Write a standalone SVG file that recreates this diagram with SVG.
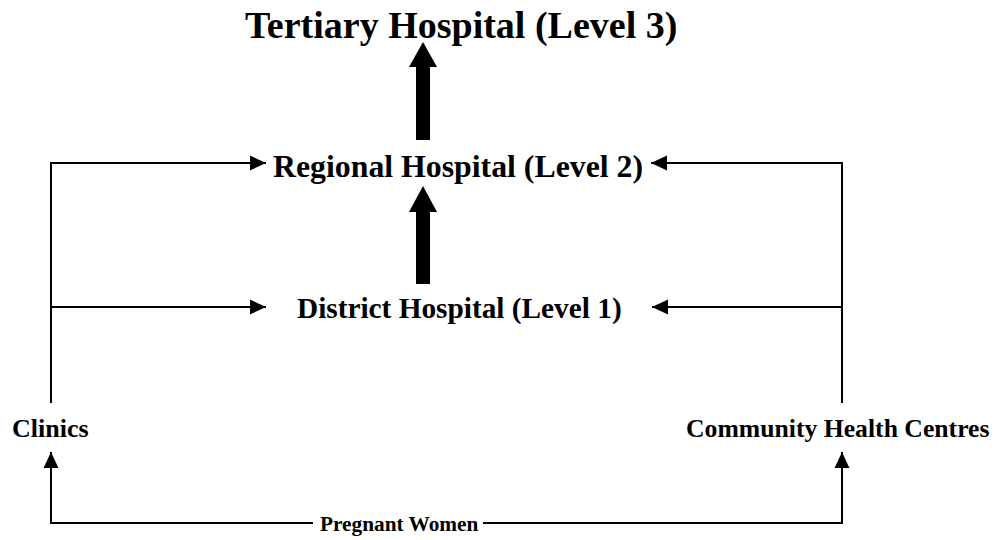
<svg xmlns="http://www.w3.org/2000/svg" width="1005" height="540" viewBox="0 0 1005 540">
  <style>
    text { font-family: "Liberation Serif", "Times New Roman", serif; font-weight: bold; fill: #000; }
    .link { fill: none; stroke: #000; stroke-width: 2; }
    .big { fill: #000; stroke: none; }
  </style>
  <defs>
    <marker id="head" markerUnits="userSpaceOnUse" markerWidth="16" markerHeight="16" viewBox="0 0 14 14" refX="14" refY="7" orient="auto">
      <path d="M0,0.5 L14,7 L0,13.5 Z" fill="#000"/>
    </marker>
  </defs>
  <rect width="1005" height="540" fill="#fff"/>

  <g id="tertiary">
    <text x="245" y="38" font-size="38">Tertiary Hospital (Level 3)</text>
  </g>
  <g id="regional">
    <text x="273" y="177" font-size="31.8">Regional Hospital (Level 2)</text>
  </g>
  <g id="district">
    <text x="297" y="318" font-size="29.3">District Hospital (Level 1)</text>
  </g>
  <g id="clinics">
    <text x="12" y="437" font-size="26">Clinics</text>
  </g>
  <g id="chc">
    <text x="686" y="437" font-size="25.7">Community Health Centres</text>
  </g>
  <g id="pregnant">
    <text x="320" y="531" font-size="21.3">Pregnant Women</text>
  </g>

  <g id="connectors">
    <!-- referral upwards between hospital levels -->
    <path class="big" d="M416,140 L416,67 L409,67 L423,42 L437,67 L430,67 L430,140 Z"/>
    <path class="big" d="M416,284 L416,212 L409,212 L423,186 L437,212 L430,212 L430,284 Z"/>
    <!-- clinics to hospitals -->
    <path class="link" d="M51,403 L51,163 L266,163" marker-end="url(#head)"/>
    <path class="link" d="M51,307 L266,307" marker-end="url(#head)"/>
    <!-- community health centres to hospitals -->
    <path class="link" d="M842,403 L842,163 L651,163" marker-end="url(#head)"/>
    <path class="link" d="M842,307 L652,307" marker-end="url(#head)"/>
    <!-- pregnant women to primary care -->
    <path class="link" d="M313,523 L51,523 L51,452" marker-end="url(#head)"/>
    <path class="link" d="M483,523 L842,523 L842,452" marker-end="url(#head)"/>
  </g>
</svg>
